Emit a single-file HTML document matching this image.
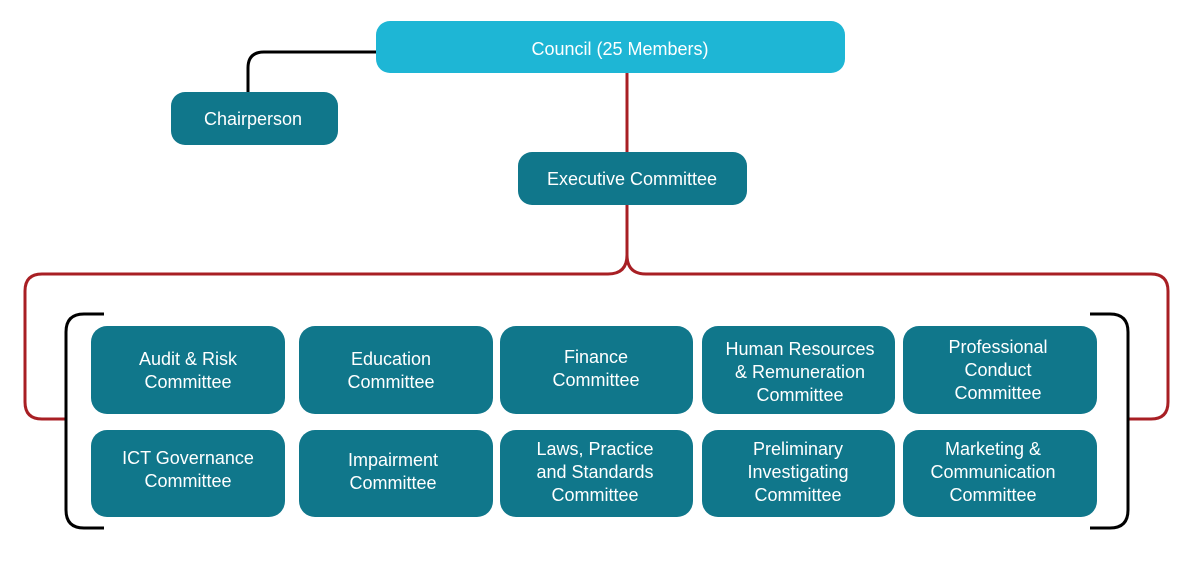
<!DOCTYPE html>
<html><head><meta charset="utf-8"><style>
html,body{margin:0;padding:0;background:#fff;}
svg{display:block;}
text{font-family:"Liberation Sans",sans-serif;font-size:18px;fill:#fff;text-anchor:middle;}
</style></head><body>
<svg width="1200" height="569" viewBox="0 0 1200 569" xmlns="http://www.w3.org/2000/svg">
<g fill="none" stroke-width="3">
<path d="M376 52 H264 Q248 52 248 68 V93" stroke="#000"/>
<path d="M627 73 V255 Q627 274 608 274 H42 Q25 274 25 291 V402 Q25 419 42 419 H66" stroke="#a81f24"/>
<path d="M627 255 Q627 274 646 274 H1151 Q1168 274 1168 291 V402 Q1168 419 1151 419 H1129" stroke="#a81f24"/>
<path d="M104 314 H84 Q66 314 66 332 V510 Q66 528 84 528 H104" stroke="#000"/>
<path d="M1090 314 H1110 Q1128 314 1128 332 V510 Q1128 528 1110 528 H1090" stroke="#000"/>
</g>
<rect x="376" y="21" width="469" height="52" rx="14" fill="#1eb6d5"/>
<text x="620" y="55">Council (25 Members)</text>
<rect x="171" y="92" width="167" height="53" rx="14" fill="#10778b"/>
<text x="253" y="125">Chairperson</text>
<rect x="518" y="152" width="229" height="53" rx="14" fill="#10778b"/>
<text x="632" y="185">Executive Committee</text>
<g fill="#10778b">
<rect x="91" y="326" width="194" height="88" rx="16"/>
<rect x="299" y="326" width="194" height="88" rx="16"/>
<rect x="500" y="326" width="193" height="88" rx="16"/>
<rect x="702" y="326" width="193" height="88" rx="16"/>
<rect x="903" y="326" width="194" height="88" rx="16"/>
<rect x="91" y="430" width="194" height="87" rx="16"/>
<rect x="299" y="430" width="194" height="87" rx="16"/>
<rect x="500" y="430" width="193" height="87" rx="16"/>
<rect x="702" y="430" width="193" height="87" rx="16"/>
<rect x="903" y="430" width="194" height="87" rx="16"/>
</g>
<text x="188" y="365">Audit &amp; Risk</text><text x="188" y="388">Committee</text>
<text x="391" y="365">Education</text><text x="391" y="388">Committee</text>
<text x="596" y="363">Finance</text><text x="596" y="386">Committee</text>
<text x="800" y="355">Human Resources</text><text x="800" y="378">&amp; Remuneration</text><text x="800" y="401">Committee</text>
<text x="998" y="353">Professional</text><text x="998" y="376">Conduct</text><text x="998" y="399">Committee</text>
<text x="188" y="464">ICT Governance</text><text x="188" y="487">Committee</text>
<text x="393" y="466">Impairment</text><text x="393" y="489">Committee</text>
<text x="595" y="455">Laws, Practice</text><text x="595" y="478">and Standards</text><text x="595" y="501">Committee</text>
<text x="798" y="455">Preliminary</text><text x="798" y="478">Investigating</text><text x="798" y="501">Committee</text>
<text x="993" y="455">Marketing &amp;</text><text x="993" y="478">Communication</text><text x="993" y="501">Committee</text>
</svg>
</body></html>
